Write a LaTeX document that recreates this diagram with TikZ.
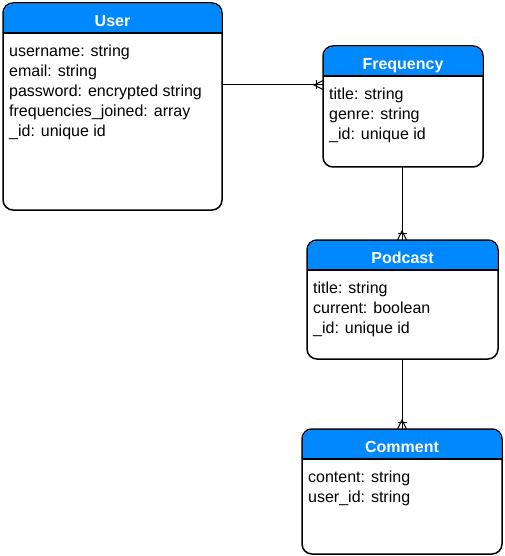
\documentclass[tikz,border=0pt]{standalone}
\usepackage{fontspec}
\setmainfont{Liberation Sans}
\usetikzlibrary{calc}
\definecolor{hdr}{RGB}{0,136,255}
\tikzset{
  frame/.style={draw=black, fill=white, line width=1.5pt, rounded corners=10pt, inner sep=0pt, outer sep=0pt},
  titletext/.style={anchor=base, text=white, font=\fontsize{16}{19}\selectfont\bfseries, inner sep=0pt},
  attr/.style={anchor=base west, font=\fontsize{16}{20}\selectfont, inner sep=0pt, text=black},
  conn/.style={line width=1pt, draw=black},
}
% #1 name #2 x1 #3 y1 #4 x2 #5 y2 #6 header line y #7 title #8 attributes
\newcommand\erbox[8]{%
  \node[frame, minimum width={(#4-#2)*1pt}, minimum height={(#5-#3)*1pt}] (#1) at ({(#2+#4)/2},{(#3+#5)/2}) {};
  \fill[hdr] ({#2+0.75},#6) [rounded corners=9.25pt] -- ({#2+0.75},{#3+0.75}) -- ({#4-0.75},{#3+0.75}) [sharp corners] -- ({#4-0.75},#6) -- cycle;
  \draw[line width=1.4pt] (#1.west |- 0,#6) -- (#1.east |- 0,#6);
  \node[titletext] (#1-title) at ({(#2+#4)/2},{#3+23.5}) {#7};
  \foreach \t [count=\i] in {#8} \node[attr] (#1-a\i) at ({#2+6},{#6+23.7+20*(\i-1)}) {\t};
}
\begin{document}
\begin{tikzpicture}[x=1pt,y=-1pt]
\useasboundingbox (0,0) rectangle (505,556);
\erbox{user}{3}{3}{222}{210}{33}{User}{username: string, email: string, password: encrypted string, frequencies\_joined: array, \_id: unique id}
\erbox{freq}{323}{46}{483}{167}{76}{Frequency}{title: string, genre: string, \_id: unique id}
\erbox{pod}{307}{240}{498}{359}{270}{Podcast}{title: string, current: boolean, \_id: unique id}
\erbox{com}{302}{429}{502}{554}{459}{Comment}{content: string, user\_id: string}
\coordinate (hy) at (0,85);
\coordinate (vx) at (402,0);
% User -> Frequency
\coordinate (e1) at (freq.west |- hy);
\draw[conn] (user.east |- hy) -- (e1);
\draw[conn] ($(e1)+(-7,-4.5)$) -- ($(e1)+(-7,4.5)$);
\draw[conn] ($(e1)+(0,-4.5)$) -- ($(e1)+(-9,0)$) -- ($(e1)+(0,4.5)$);
% Frequency -> Podcast
\coordinate (e2) at (pod.north -| vx);
\draw[conn] (freq.south -| vx) -- (e2);
\draw[conn] ($(e2)+(-4.5,-7)$) -- ($(e2)+(4.5,-7)$);
\draw[conn] ($(e2)+(-4.5,0)$) -- ($(e2)+(0,-9)$) -- ($(e2)+(4.5,0)$);
% Podcast -> Comment
\coordinate (e3) at (com.north -| vx);
\draw[conn] (pod.south -| vx) -- (e3);
\draw[conn] ($(e3)+(-4.5,-7)$) -- ($(e3)+(4.5,-7)$);
\draw[conn] ($(e3)+(-4.5,0)$) -- ($(e3)+(0,-9)$) -- ($(e3)+(4.5,0)$);
\end{tikzpicture}
\end{document}
